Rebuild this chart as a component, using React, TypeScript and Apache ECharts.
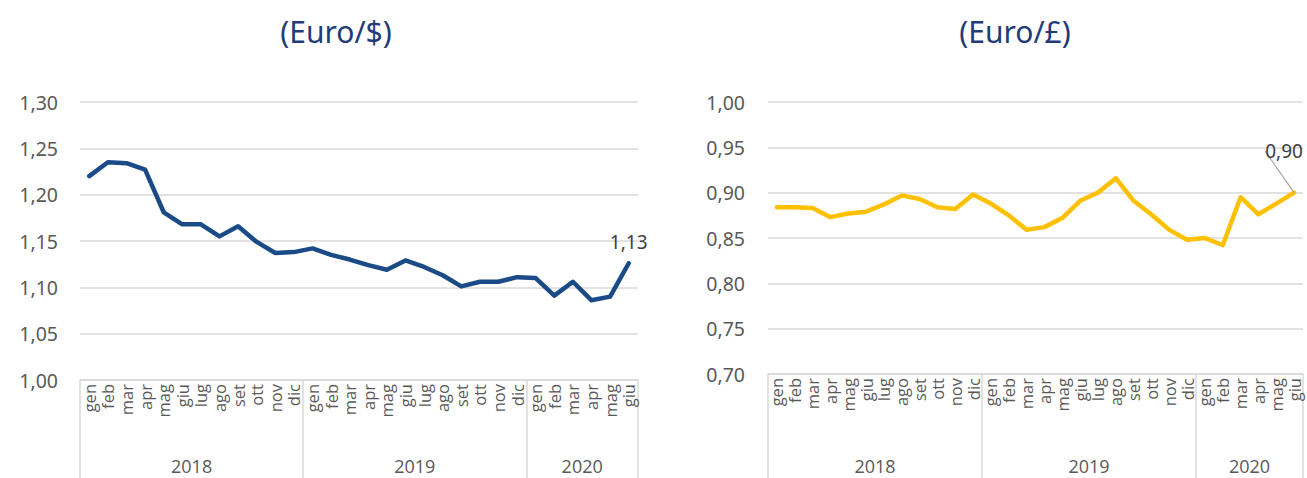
import React, { useEffect, useRef } from "react";
import * as echarts from "echarts";

const monthNames = ["gen", "feb", "mar", "apr", "mag", "giu", "lug", "ago", "set", "ott", "nov", "dic"];
const years = ["2018", "2019", "2020"];
const monthsPerYear = [12, 12, 6];

const euroUsd = [
  1.220, 1.235, 1.234, 1.227, 1.181, 1.168, 1.168, 1.155, 1.166, 1.149, 1.137, 1.138,
  1.142, 1.135, 1.130, 1.124, 1.119, 1.129, 1.122, 1.113, 1.101, 1.106, 1.106, 1.111,
  1.110, 1.091, 1.106, 1.086, 1.090, 1.126,
];
const euroGbp = [
  0.884, 0.884, 0.883, 0.873, 0.877, 0.879, 0.887, 0.897, 0.893, 0.884, 0.882, 0.898,
  0.888, 0.875, 0.859, 0.862, 0.872, 0.891, 0.900, 0.916, 0.891, 0.876, 0.859, 0.848,
  0.850, 0.842, 0.895, 0.876, 0.888, 0.900,
];

const titles = ["(Euro/$)", "(Euro/£)"];

const categories: string[] = [];
years.forEach((y, yi) => {
  for (let m = 0; m < monthsPerYear[yi]; m++) categories.push(monthNames[m]);
});
const boundaries: number[] = [0];
monthsPerYear.forEach((n) => boundaries.push(boundaries[boundaries.length - 1] + n));
const yearCenters = monthsPerYear.map((n, i) => boundaries[i] + n / 2);

const fmt = (v: number) => v.toFixed(2).replace(".", ",");

const GRID_LINE = "#d9d9d9";
const TEXT = "#595959";

export default function App() {
  const ref = useRef<HTMLDivElement>(null);
  useEffect(() => {
    if (!ref.current) return;
    const chart = echarts.init(ref.current, undefined, { renderer: "svg" });

    const grids = [
      { left: 80, right: 669, top: 102, bottom: 98 },
      { left: 768, right: 4, top: 102, bottom: 104 },
    ];
    const xAxes: any[] = [];
    const yAxes: any[] = [];
    grids.forEach((g, gi) => {
      xAxes.push({
        type: "category",
        gridIndex: gi,
        data: categories,
        boundaryGap: true,
        axisLine: { show: true, lineStyle: { color: GRID_LINE, width: 1.5 } },
        axisTick: { show: false },
        axisLabel: {
          interval: 0,
          rotate: 90,
          margin: 4,
          color: TEXT,
          fontSize: 16.5,
          fontFamily: "Open Sans",
        },
      });
      xAxes.push({
        type: "value",
        gridIndex: gi,
        position: "bottom",
        min: 0,
        max: boundaries[boundaries.length - 1],
        axisLine: { show: false },
        splitLine: { show: false },
        axisTick: {
          show: true,
          customValues: boundaries,
          length: gi === 0 ? 98 : 104,
          lineStyle: { color: GRID_LINE, width: 1.5 },
        },
        axisLabel: {
          customValues: yearCenters,
          formatter: (v: number) => {
            const idx = yearCenters.indexOf(v);
            return idx >= 0 ? years[idx] : "";
          },
          margin: gi === 0 ? 77 : 83,
          color: TEXT,
          fontSize: 18,
          fontFamily: "Open Sans",
        },
      });
    });
    yAxes.push({
      type: "value",
      gridIndex: 0,
      min: 1.0,
      max: 1.3,
      interval: 0.05,
      axisLine: { show: false },
      axisTick: { show: false },
      splitLine: { lineStyle: { color: GRID_LINE, width: 1.5 } },
      axisLabel: { formatter: fmt, color: TEXT, fontSize: 19.5, margin: 22, fontFamily: "Noto Sans" },
    });
    yAxes.push({
      type: "value",
      gridIndex: 1,
      min: 0.7,
      max: 1.0,
      interval: 0.05,
      axisLine: { show: false },
      axisTick: { show: false },
      splitLine: { lineStyle: { color: GRID_LINE, width: 1.5 } },
      axisLabel: { formatter: fmt, color: TEXT, fontSize: 19.5, margin: 23, fontFamily: "Noto Sans" },
    });

    const lastLabel = (distance: number) => ({
      show: true,
      position: "top",
      distance,
      formatter: (p: any) => fmt(p.value),
      color: "#404040",
      fontSize: 19,
      fontFamily: "Noto Sans",
    });
    const usdData = euroUsd.map((v, i) =>
      i === euroUsd.length - 1 ? { value: v, label: lastLabel(12) } : v
    );
    const gbpData = euroGbp.map((v, i) =>
      i === euroGbp.length - 1
        ? {
            value: v,
            label: lastLabel(4),
            labelLine: { show: true, lineStyle: { color: "#a6a6a6", width: 1.2 } },
          }
        : v
    );

    const titleStyle = { color: "#1f3c78", fontSize: 30, fontWeight: "normal", fontFamily: "Noto Sans" };
    chart.setOption({
      animation: false,
      title: [
        { text: titles[0], left: 331, top: 11, textAlign: "center", textStyle: titleStyle },
        { text: titles[1], left: 1010, top: 11, textAlign: "center", textStyle: titleStyle },
      ],
      grid: grids,
      xAxis: xAxes,
      yAxis: yAxes,
      series: [
        {
          type: "line",
          xAxisIndex: 0,
          yAxisIndex: 0,
          data: usdData,
          symbol: "circle",
          symbolSize: 0,
          showSymbol: true,
          lineStyle: { color: "#1a4b87", width: 4.5, join: "round", cap: "round" },
          itemStyle: { color: "#1a4b87" },
        },
        {
          type: "line",
          xAxisIndex: 2,
          yAxisIndex: 1,
          data: gbpData,
          symbol: "circle",
          symbolSize: 0,
          showSymbol: true,
          lineStyle: { color: "#ffc000", width: 4.5, join: "round", cap: "round" },
          itemStyle: { color: "#ffc000" },
          labelLayout: () => ({ dx: -10, dy: -28 }),
          labelLine: { show: true, lineStyle: { color: "#a6a6a6", width: 1.2 } },
        },
      ],
    });
    return () => chart.dispose();
  }, []);
  return (
    <div
      ref={ref}
      style={{ position: "fixed", left: 0, top: 0, width: 1307, height: 478, background: "#fff" }}
    />
  );
}
